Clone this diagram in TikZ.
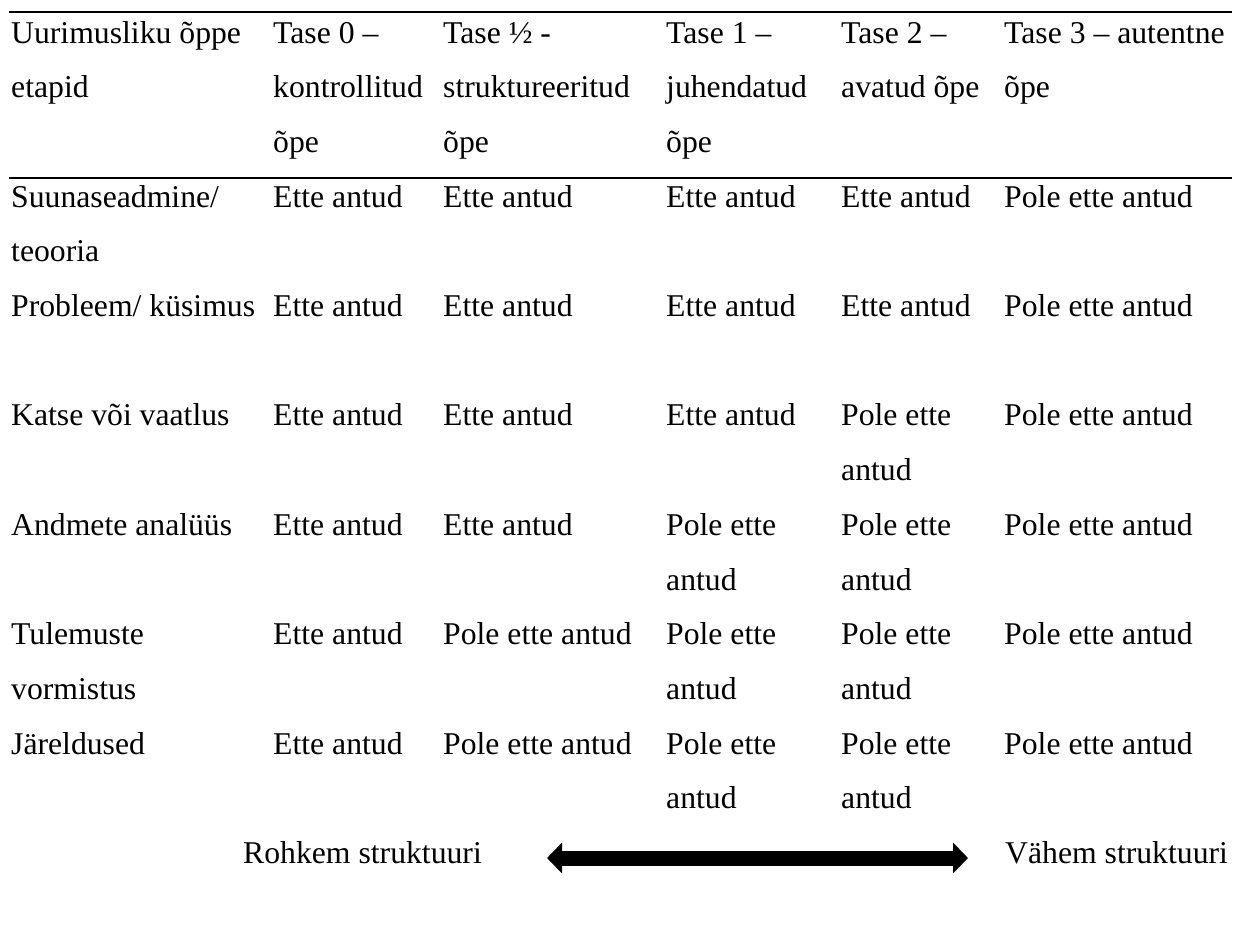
\documentclass[tikz,border=0pt]{standalone}
\usepackage{fontspec}
\setmainfont{Liberation Serif}
\usetikzlibrary{arrows.meta}
\newcommand{\cellrows}[1]{\begin{tabular}[t]{@{}l@{}}#1\end{tabular}}

\begin{document}
\begin{tikzpicture}[
            x=1pt, y=-1pt,
            cell/.style={anchor=base west, inner sep=0pt,
                         font=\fontsize{31.7pt}{54.7pt}\selectfont},
            rule/.style={line width=2pt},
            ]
            \useasboundingbox (0,0) rectangle (1239,930);

            % header
            \draw[rule] (9,12.3) -- (1232,12.3);
            \node[cell] (h1) at (11,43) {\cellrows{Uurimusliku õppe\\etapid}};
            \node[cell] (h2) at (273,43) {\cellrows{Tase 0 –\\kontrollitud\\õpe}};
            \node[cell] (h3) at (443,43) {\cellrows{Tase ½ -\\struktureeritud\\õpe}};
            \node[cell] (h4) at (666,43) {\cellrows{Tase 1 –\\juhendatud\\õpe}};
            \node[cell] (h5) at (841,43) {\cellrows{Tase 2 –\\avatud õpe}};
            \node[cell] (h6) at (1004,43) {\cellrows{Tase 3 – autentne\\õpe}};
            \draw[rule] (9,178.3) -- (1232,178.3);

            % row 1
            \node[cell] (a1) at (11,207.1) {\cellrows{Suunaseadmine/\\teooria}};
            \node[cell] (a2) at (273,207.1) {Ette antud};
            \node[cell] (a3) at (443,207.1) {Ette antud};
            \node[cell] (a4) at (666,207.1) {Ette antud};
            \node[cell] (a5) at (841,207.1) {Ette antud};
            \node[cell] (a6) at (1004,207.1) {Pole ette antud};

            % row 2
            \node[cell] (b1) at (11,316.5) {Probleem/ küsimus};
            \node[cell] (b2) at (273,316.5) {Ette antud};
            \node[cell] (b3) at (443,316.5) {Ette antud};
            \node[cell] (b4) at (666,316.5) {Ette antud};
            \node[cell] (b5) at (841,316.5) {Ette antud};
            \node[cell] (b6) at (1004,316.5) {Pole ette antud};

            % row 3
            \node[cell] (c1) at (11,425.9) {Katse või vaatlus};
            \node[cell] (c2) at (273,425.9) {Ette antud};
            \node[cell] (c3) at (443,425.9) {Ette antud};
            \node[cell] (c4) at (666,425.9) {Ette antud};
            \node[cell] (c5) at (841,425.9) {\cellrows{Pole ette\\antud}};
            \node[cell] (c6) at (1004,425.9) {Pole ette antud};

            % row 4
            \node[cell] (d1) at (11,535.3) {Andmete analüüs};
            \node[cell] (d2) at (273,535.3) {Ette antud};
            \node[cell] (d3) at (443,535.3) {Ette antud};
            \node[cell] (d4) at (666,535.3) {\cellrows{Pole ette\\antud}};
            \node[cell] (d5) at (841,535.3) {\cellrows{Pole ette\\antud}};
            \node[cell] (d6) at (1004,535.3) {Pole ette antud};

            % row 5
            \node[cell] (e1) at (11,644.7) {\cellrows{Tulemuste\\vormistus}};
            \node[cell] (e2) at (273,644.7) {Ette antud};
            \node[cell] (e3) at (443,644.7) {Pole ette antud};
            \node[cell] (e4) at (666,644.7) {\cellrows{Pole ette\\antud}};
            \node[cell] (e5) at (841,644.7) {\cellrows{Pole ette\\antud}};
            \node[cell] (e6) at (1004,644.7) {Pole ette antud};

            % row 6
            \node[cell] (f1) at (11,754.1) {Järeldused};
            \node[cell] (f2) at (273,754.1) {Ette antud};
            \node[cell] (f3) at (443,754.1) {Pole ette antud};
            \node[cell] (f4) at (666,754.1) {\cellrows{Pole ette\\antud}};
            \node[cell] (f5) at (841,754.1) {\cellrows{Pole ette\\antud}};
            \node[cell] (f6) at (1004,754.1) {Pole ette antud};

            % structure scale
            \node[cell] (more) at (243,863.5) {Rohkem struktuuri};
            \node[cell] (less) at (1005,863.5) {Vähem struktuuri};
            \coordinate (al) at (547,858);
            \coordinate (ar) at (968,858);
            \draw[line width=15pt, {Triangle[length=15pt,width=30pt]}-{Triangle[length=15pt,width=30pt]}] (al) -- (ar);
        \end{tikzpicture}
\end{document}
